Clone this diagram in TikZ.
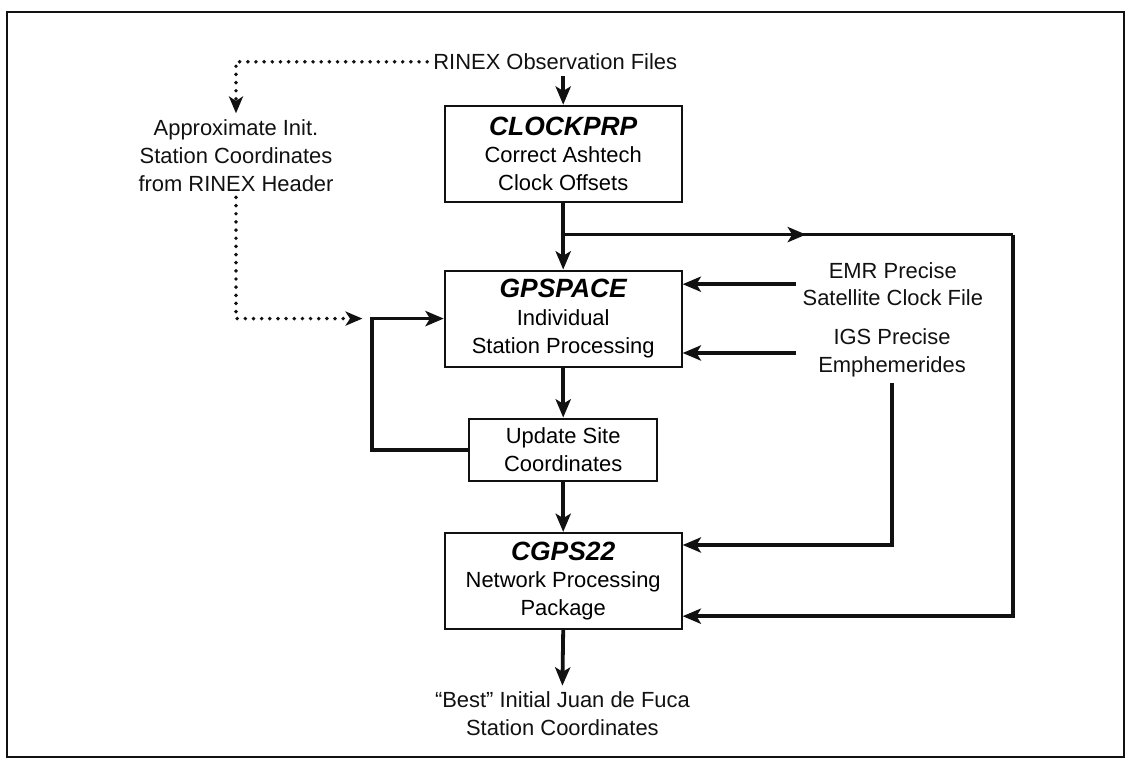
\documentclass[tikz,border=0pt]{standalone}
\usepackage{fontspec}
\setmainfont{Liberation Sans}
\usepackage{xcolor}
\usepackage{tikz}
\usetikzlibrary{arrows.meta,decorations.markings}
\definecolor{FCInk}{HTML}{111111}
\newcommand\FCtitle{\fontsize{9.4}{9.9}\selectfont\bfseries\itshape}

\begin{document}
\begin{tikzpicture}[x=1cm,y=1cm,
  font=\fontsize{7.8}{9.9}\selectfont,
  procbox/.style={draw=FCInk,line width=0.75pt,align=center,minimum width=2.96cm,minimum height=1.2cm,inner sep=1pt},
  plain/.style={align=center,inner sep=2pt,text=FCInk},
  conn/.style={draw=FCInk,line width=1.35pt,-{Stealth[length=6.5pt,width=5.4pt,inset=1.6pt]}},
  dotconn/.style={draw=FCInk,line width=1.4pt,line cap=round,dash pattern=on 0pt off 2.9pt,-{Stealth[length=6pt,width=5pt,inset=1.6pt]}},
  midarrow/.style={postaction=decorate,decoration={markings,mark=at position 0.54 with {\arrow{Stealth[length=6.5pt,width=5.4pt,inset=1.6pt]}}}}]
\path[use as bounding box] (0,0) rectangle (14.15,9.5625);
\draw[FCInk,line width=0.9pt] (0.09,0.10) rectangle (14.05,9.41);
% inputs and boxes
\node[plain,anchor=west] (rinex) at (5.34,8.79) {RINEX Observation Files};
\node[plain] (approx) at (2.95,7.62) {Approximate Init.\\Station Coordinates\\from RINEX Header};
\node[procbox] (clockprp) at (7.04,7.64) {{\FCtitle CLOCKPRP}\\Correct Ashtech\\Clock Offsets};
\node[procbox] (gpspace) at (7.04,5.58) {{\FCtitle GPSPACE}\\Individual\\Station Processing};
\node[procbox,minimum width=2.35cm,minimum height=0.78cm] (update) at (7.04,3.94) {Update Site\\Coordinates};
\node[procbox] (cgps) at (7.04,2.30) {{\FCtitle CGPS22}\\Network Processing\\Package};
\node[plain] (emr) at (11.16,6.01) {EMR Precise\\Satellite Clock File};
\node[plain] (igs) at (11.15,5.15) {IGS Precise\\Emphemerides};
\node[plain] (best) at (7.03,0.64) {``Best'' Initial Juan de Fuca\\Station Coordinates};
\coordinate (split) at (7.04,6.63);
\coordinate (turn) at (12.66,6.63);
\coordinate (join) at (4.65,5.58);
% main flow
\draw[conn] (rinex.south -| clockprp.north) -- (clockprp.north);
\draw[conn] (clockprp.south) -- (gpspace.north);
\draw[conn] (gpspace.south) -- (update.north);
\draw[conn] (update.south) -- (cgps.north);
\draw[conn] (cgps.south) -- (best.north);
\draw[conn] (update.west) -| (join) -- (gpspace.west);
% side inputs
\draw[FCInk,line width=1.35pt,midarrow] (split) -- (turn);
\draw[conn] (turn) |- ([yshift=-0.44cm]cgps.east);
\draw[conn] (emr.west) -- (emr.west -| gpspace.east);
\draw[conn] (emr.west |- igs.west) -- (igs.west -| gpspace.east);
\draw[conn] (igs.south) |- ([yshift=0.45cm]cgps.east);
% header coordinates
\draw[dotconn] (rinex.west) -| (approx.north);
\draw[dotconn] (approx.south) |- ([xshift=-0.12cm]join);
\end{tikzpicture}
\end{document}
